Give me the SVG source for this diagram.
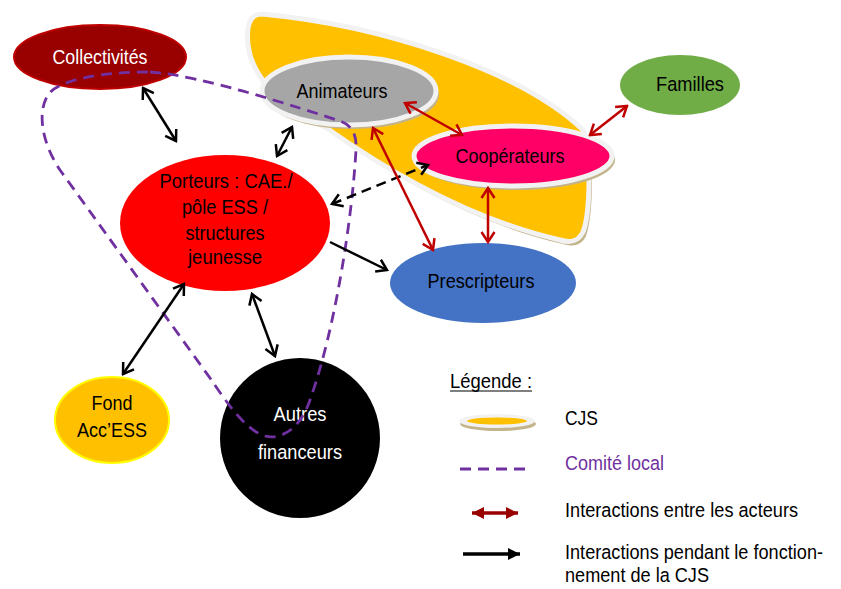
<svg xmlns="http://www.w3.org/2000/svg" width="841" height="589" viewBox="0 0 841 589">
<style>
text{font-family:"Liberation Sans",Arial,sans-serif;font-size:20.5px;fill:#000;text-anchor:middle}
.lg{text-anchor:start}
.w{fill:#fff}
.blk{stroke:#000;stroke-width:2.5;fill:none}
.red{stroke:#c00000;stroke-width:2.5;fill:none}
.com{stroke:#7030a0;stroke-width:2.8;fill:none;stroke-dasharray:11 7}
</style>
<defs>
<path id="cjsp" d="M262,14 C380,25 520,70 583,130 C592,150 590,215 583,232 C578,242 570,243 560,240 Q450,215 325,127 C285,108 252,80 248,45 C246,25 250,14 262,14 Z"/>
<marker id="ab" viewBox="-12 -8 14 16" refX="0" refY="0" markerWidth="14" markerHeight="16" markerUnits="userSpaceOnUse" orient="auto-start-reverse">
<path d="M-10,-6.5 L0,0 L-10,6.5" fill="none" stroke="#000" stroke-width="2.5"/>
</marker>
<marker id="ar" viewBox="-12 -8 14 16" refX="0" refY="0" markerWidth="14" markerHeight="16" markerUnits="userSpaceOnUse" orient="auto-start-reverse">
<path d="M-10,-6.5 L0,0 L-10,6.5" fill="none" stroke="#c00000" stroke-width="2.5"/>
</marker>
<marker id="fr" viewBox="-12 -7 13 14" refX="0" refY="0" markerWidth="13" markerHeight="14" markerUnits="userSpaceOnUse" orient="auto-start-reverse">
<path d="M-12,-6 L0,0 L-12,6 Z" fill="#990000"/>
</marker>
<marker id="fb" viewBox="-12 -7 13 14" refX="0" refY="0" markerWidth="13" markerHeight="14" markerUnits="userSpaceOnUse" orient="auto">
<path d="M-12,-6 L0,0 L-12,6 Z" fill="#000"/>
</marker>
</defs>
<rect width="841" height="589" fill="#fff"/>

<g id="cjs">
<use href="#cjsp" transform="translate(3,4)" fill="#c4b48c"/>
<use href="#cjsp" fill="#ffc000" stroke="#f2f2f2" stroke-width="5"/>
</g>

<g id="collectivites">
<ellipse cx="100" cy="57" rx="86" ry="32" fill="#990000" stroke="#c00000" stroke-width="2"/>
<text class="w" x="100" y="64" textLength="95" lengthAdjust="spacingAndGlyphs">Collectivités</text>
</g>

<g id="animateurs">
<ellipse cx="352" cy="95" rx="87" ry="34" fill="#c4b48c"/>
<ellipse cx="349" cy="91" rx="87" ry="34" fill="#a6a6a6" stroke="#f2f2f2" stroke-width="5"/>
<text x="342" y="98" textLength="91" lengthAdjust="spacingAndGlyphs">Animateurs</text>
</g>

<g id="cooperateurs">
<ellipse cx="516" cy="160" rx="99" ry="30" fill="#c4b48c"/>
<ellipse cx="513" cy="156" rx="99" ry="30" fill="#ff0066" stroke="#f2f2f2" stroke-width="5"/>
<text x="510" y="163" textLength="109" lengthAdjust="spacingAndGlyphs">Coopérateurs</text>
</g>

<g id="familles">
<ellipse cx="680" cy="85" rx="60" ry="30" fill="#70ad47"/>
<text x="690" y="91" textLength="68" lengthAdjust="spacingAndGlyphs">Familles</text>
</g>

<g id="prescripteurs">
<ellipse cx="483" cy="283" rx="93" ry="40" fill="#4472c4"/>
<text x="481" y="288" textLength="107" lengthAdjust="spacingAndGlyphs">Prescripteurs</text>
</g>

<g id="porteurs">
<ellipse cx="225" cy="223" rx="105" ry="68" fill="#ff0000"/>
<text x="226" y="188" textLength="133" lengthAdjust="spacingAndGlyphs">Porteurs : CAE./</text>
<text x="225" y="214" textLength="86" lengthAdjust="spacingAndGlyphs">pôle ESS /</text>
<text x="225" y="240" textLength="79" lengthAdjust="spacingAndGlyphs">structures</text>
<text x="225" y="264" textLength="74" lengthAdjust="spacingAndGlyphs">jeunesse</text>
</g>

<g id="fond">
<ellipse cx="112" cy="420" rx="57" ry="43" fill="#ffc000" stroke="#ffff00" stroke-width="2"/>
<text x="112" y="410" textLength="41" lengthAdjust="spacingAndGlyphs">Fond</text>
<text x="112" y="437" textLength="70" lengthAdjust="spacingAndGlyphs">Acc’ESS</text>
</g>

<g id="autres">
<circle cx="300" cy="438" r="80" fill="#000"/>
<text class="w" x="300" y="421" textLength="53" lengthAdjust="spacingAndGlyphs">Autres</text>
<text class="w" x="300" y="459" textLength="84" lengthAdjust="spacingAndGlyphs">financeurs</text>
</g>

<g id="comite-local">
<path class="com" d="M150,72 C200,75 300,108 340,121 C352,125 357,135 356,150 C352,220 335,330 310,400 C300,430 280,440 265,436 C245,430 225,400 210,378 L60,170 C40,140 38,110 48,95 C58,80 100,72 150,72 Z"/>
</g>

<g id="connectors">
<line class="blk" x1="143" y1="88" x2="176" y2="141" marker-start="url(#ab)" marker-end="url(#ab)"/>
<line class="blk" x1="292" y1="127" x2="277" y2="156" marker-start="url(#ab)" marker-end="url(#ab)"/>
<line class="blk" x1="184" y1="284" x2="123" y2="374" marker-start="url(#ab)" marker-end="url(#ab)"/>
<line class="blk" x1="252" y1="294" x2="275" y2="356" marker-start="url(#ab)" marker-end="url(#ab)"/>
<line class="blk" x1="330" y1="242" x2="387" y2="270" marker-end="url(#ab)"/>
<line class="blk" x1="332" y1="204" x2="428" y2="165" stroke-dasharray="10 6" marker-start="url(#ab)" marker-end="url(#ab)"/>
<line class="red" x1="405" y1="103" x2="462" y2="135" marker-start="url(#ar)" marker-end="url(#ar)"/>
<line class="red" x1="373" y1="128" x2="433" y2="250" marker-start="url(#ar)" marker-end="url(#ar)"/>
<line class="red" x1="488" y1="188" x2="488" y2="242" marker-start="url(#ar)" marker-end="url(#ar)"/>
<line class="red" x1="590" y1="135" x2="627" y2="106" marker-start="url(#ar)" marker-end="url(#ar)"/>
</g>

<g id="legend">
<text class="lg" x="450" y="388" textLength="82" lengthAdjust="spacingAndGlyphs">Légende :</text>
<line x1="450" y1="391" x2="532" y2="391" stroke="#000" stroke-width="1.2"/>
<ellipse cx="498" cy="424" rx="38" ry="7" fill="#c4b48c"/>
<ellipse cx="497" cy="421" rx="38" ry="7" fill="#f2f2f2"/>
<ellipse cx="497" cy="421" rx="30" ry="3.5" fill="#ffc000"/>
<text class="lg" x="565" y="425" textLength="33" lengthAdjust="spacingAndGlyphs">CJS</text>
<line class="com" x1="460" y1="469" x2="532" y2="469" stroke-dasharray="11 10"/>
<text class="lg" x="565" y="470" textLength="99" lengthAdjust="spacingAndGlyphs" style="fill:#7030a0">Comité local</text>
<line x1="472" y1="513" x2="518" y2="513" stroke="#990000" stroke-width="3.5" marker-start="url(#fr)" marker-end="url(#fr)"/>
<text class="lg" x="565" y="517" textLength="233" lengthAdjust="spacingAndGlyphs">Interactions entre les acteurs</text>
<line x1="463" y1="554" x2="520" y2="554" stroke="#000" stroke-width="3.5" marker-end="url(#fb)"/>
<text class="lg" x="565" y="559" textLength="258" lengthAdjust="spacingAndGlyphs">Interactions pendant le fonction-</text>
<text class="lg" x="565" y="582" textLength="144" lengthAdjust="spacingAndGlyphs">nement de la CJS</text>
</g>
</svg>
